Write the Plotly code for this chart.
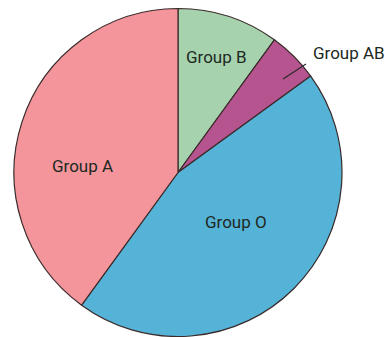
import plotly.graph_objects as go

labels = ["Group B", "Group AB", "Group O", "Group A"]
values = [10, 5, 45, 40]
colors = ["#A6D3AE", "#B5548E", "#55B3D8", "#F4959B"]

W, H = 385, 337
cx, cy, r = 178, 172.5, 164

fig = go.Figure(go.Pie(
    labels=labels, values=values, sort=False, direction="clockwise", rotation=0,
    marker=dict(colors=colors, line=dict(color="#3a2a2a", width=1.2)),
    textinfo="none", hoverinfo="label+percent", showlegend=False,
    domain=dict(x=[(cx - r) / W, (cx + r) / W], y=[1 - (cy + r) / H, 1 - (cy - r) / H]),
))

font = dict(family="Roboto, Liberation Sans, sans-serif", size=17, color="#202822")
# label positions (pixel coords of label centres)
pos = {"Group B": (216, 57), "Group A": (82, 166), "Group O": (236, 222)}
for lab in labels:
    if lab in pos:
        x, y = pos[lab]
        fig.add_annotation(x=x / W, y=1 - y / H, xref="paper", yref="paper", text=lab,
                           showarrow=False, xanchor="center", yanchor="middle", font=font)
# AB label with leader line
fig.add_annotation(x=311 / W, y=1 - 53 / H, xref="paper", yref="paper", text=labels[1],
                   showarrow=False, xanchor="left", yanchor="middle", font=font)
fig.add_shape(type="line", xref="paper", yref="paper",
              x0=283 / W, y0=1 - 79 / H, x1=306 / W, y1=1 - 64 / H,
              line=dict(color="#2a2a2a", width=1.2))

fig.update_layout(width=W, height=H, margin=dict(l=0, r=0, t=0, b=0),
                  paper_bgcolor="white", plot_bgcolor="white")
fig.write_html("out.html")
